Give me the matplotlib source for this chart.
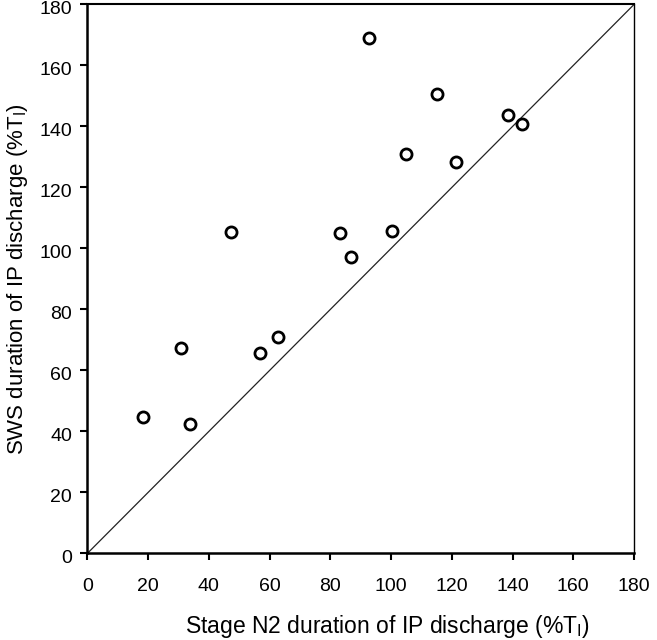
import matplotlib
matplotlib.use("Agg")
import matplotlib.pyplot as plt
import matplotlib.transforms as mtransforms

plt.rcParams['font.family'] = ['Liberation Sans', 'DejaVu Sans']
plt.rcParams['mathtext.fontset'] = 'custom'
plt.rcParams['mathtext.rm'] = 'Liberation Sans'
plt.rcParams['mathtext.it'] = 'Liberation Sans:italic'

# Data
n2_duration = [18.4, 33.8, 31.0, 47.2, 56.8, 62.8, 83.2, 86.7, 92.9, 100.2, 105.0, 115.1, 121.4, 138.4, 143.1]
sws_duration = [44.9, 42.4, 67.3, 105.5, 65.8, 71.1, 105.0, 97.3, 168.9, 105.7, 130.9, 150.6, 128.4, 143.8, 140.7]
ticks = [0, 20, 40, 60, 80, 100, 120, 140, 160, 180]
identity = [0, 180]

fig = plt.figure(figsize=(6.57, 6.40), dpi=100)
ax = fig.add_axes([0.1329, 0.1352, 0.8321, 0.8578])

ax.plot(identity, identity, color='#222222', lw=0.9)
ax.plot(n2_duration, sws_duration, linestyle='none', marker='o', markersize=8,
        markerfacecolor='white', markeredgecolor='black', markeredgewidth=2, clip_on=False)

ax.set_xlim(0, 180)
ax.set_ylim(0, 180)
ax.set_xticks(ticks)
ax.set_yticks(ticks)
ax.tick_params(direction='out', length=5, width=1.5, labelsize=14, colors='black', pad=6)
ax.tick_params(axis='x', pad=12.5)

# y tick labels sit slightly below their ticks in the reference
offset = mtransforms.ScaledTranslation(0, -3 / 100, fig.dpi_scale_trans)
for lab in ax.get_yticklabels():
    lab.set_transform(lab.get_transform() + offset)

ax.spines['left'].set_linewidth(1.8)
ax.spines['bottom'].set_linewidth(1.8)
ax.spines['top'].set_linewidth(1.5)
ax.spines['right'].set_linewidth(1.0)

ax.set_xlabel(r'Stage N2 duration of IP discharge (%T$_{\mathrm{I}}$)', fontsize=16.5)
ax.set_ylabel(r'SWS duration of IP discharge (%T$_{\mathrm{I}}$)', fontsize=16)
ax.xaxis.set_label_coords(0.549, -0.108)
ax.yaxis.set_label_coords(-0.104, 0.5)

fig.savefig('out.png', dpi=100)
